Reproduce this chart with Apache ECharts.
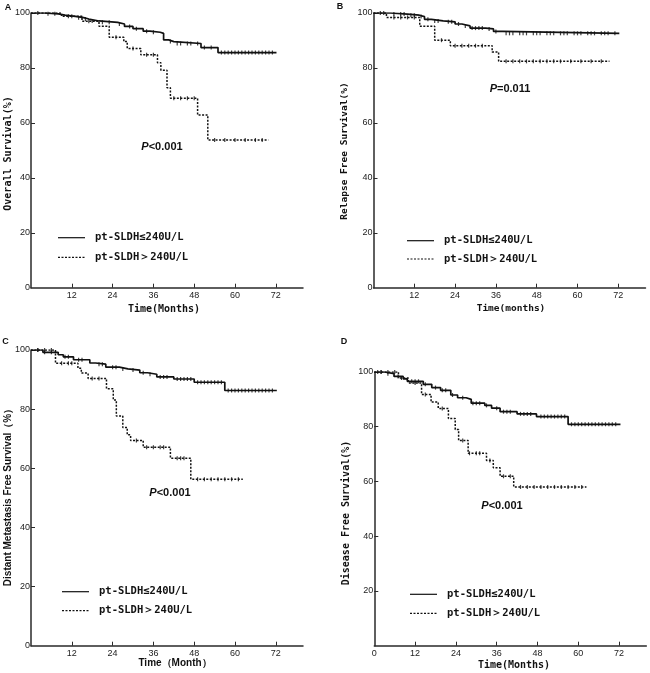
<!DOCTYPE html>
<html><head><meta charset="utf-8">
<script src="https://cdn.jsdelivr.net/npm/echarts@6/dist/echarts.min.js"></script>
<style>html,body{margin:0;padding:0;background:#fff}#c{width:650px;height:673px}</style>
</head><body><div id="c"></div>
<script>
// ---- data (months, survival %) ----
const nameLow = 'pt-SLDH≤240U/L';
const nameHigh = 'pt-SLDH＞240U/L';
const xLabelVals = [12, 24, 36, 48, 60, 72];
const xLabelValsD = [0, 12, 24, 36, 48, 60, 72];
const yLabelVals = [0, 20, 40, 60, 80, 100];
const yLabelValsD = [20, 40, 60, 80, 100];

// A: Overall Survival
const aLowT = [0, 4, 8, 10, 13, 15.5, 17, 20, 25.5, 27.5, 30, 33, 35, 38, 39, 40.5, 42, 50, 55, 72.2];
const aLowS = [100, 99.7, 99.2, 98.8, 98.3, 97.8, 97.1, 96.6, 96.0, 95.1, 94.3, 93.4, 93.0, 92.6, 90.2, 89.6, 88.9, 87.4, 85.6, 85.6];
const aHighT = [0, 9, 15, 20, 23, 27.3, 28.3, 32.3, 37.2, 38.2, 40, 41, 49, 52, 69.8];
const aHighS = [100, 98.8, 97.0, 95.2, 91.2, 89.6, 87.1, 84.8, 81.9, 79.2, 72.8, 69.0, 62.9, 53.8, 53.8];
const aLowC = [2, 5, 7, 11, 14, 16, 18, 21, 23, 26, 29, 31, 34, 36, 41, 43, 44, 46, 47, 49, 51, 53, 56, 57, 58, 59, 60, 61, 62, 63, 64, 65, 66, 67, 68, 69, 70, 71];
const aHighC = [12, 17, 25, 30, 34, 36, 42, 44, 46, 48, 54, 57, 60, 63, 66, 68];
// B: Relapse Free Survival
const bLowT = [0, 5, 10, 13.5, 15, 17, 20.5, 24, 26, 28.4, 33, 35.3, 38, 72.3];
const bLowS = [100, 99.6, 99.2, 98.7, 97.7, 97.1, 96.8, 96.0, 95.3, 94.5, 94.2, 93.3, 92.6, 92.6];
const bHighT = [0, 3.8, 13.6, 18, 22.6, 34.9, 36.8, 69.4];
const bHighS = [100, 98.4, 95.2, 90.1, 88.1, 85.8, 82.4, 82.4];
const bLowC = [2, 3, 6, 8, 9, 11, 12, 14, 16, 18, 19, 22, 23, 25, 27, 29, 30, 31, 32, 34, 36, 39, 40, 41, 43, 44, 45, 47, 48, 49, 51, 52, 53, 55, 56, 57, 59, 60, 61, 63, 64, 65, 67, 68, 69, 71];
const bHighC = [6, 8, 10, 12, 20, 24, 26, 28, 30, 32, 39, 41, 43, 45, 47, 49, 51, 53, 55, 58, 61, 64, 67];
// C: Distant Metastasis Free Survival
const cLowT = [0, 3.5, 8, 9.5, 12.5, 17.3, 19, 22, 26, 28.5, 32, 34.3, 37, 42, 48, 57, 72.3];
const cLowS = [100, 99.2, 98.4, 97.7, 96.7, 95.6, 95.2, 94.2, 93.6, 93.2, 92.3, 91.8, 90.9, 90.2, 89.1, 86.3, 86.3];
const cHighT = [0, 7.2, 13.8, 14.8, 16.8, 22.2, 24.2, 25.1, 27, 28.3, 29.3, 33, 41, 47, 62.3];
const cHighS = [100, 95.5, 93.8, 92.2, 90.4, 86.9, 83.1, 77.7, 73.8, 71.3, 69.4, 67.1, 63.4, 56.3, 56.3];
const cLowC = [2, 4, 6, 10, 11, 14, 15, 20, 21, 24, 25, 27, 30, 33, 35, 38, 39, 40, 43, 44, 45, 46, 47, 49, 50, 51, 52, 53, 54, 55, 56, 58, 59, 60, 61, 62, 63, 64, 65, 66, 67, 68, 69, 70, 71];
const cHighC = [2, 4, 6, 9, 11, 12, 18, 20, 31, 34, 36, 38, 39, 43, 44, 45, 49, 51, 53, 55, 57, 59, 61];
// D: Disease Free Survival
const dLowT = [0, 3, 5.8, 8.5, 9.7, 14.4, 16.9, 19.5, 22.5, 24.5, 27, 28.5, 32.5, 34.5, 37, 42, 47.7, 57, 72.4];
const dLowS = [100, 99.4, 98.4, 97.5, 96.6, 95.5, 94.3, 93.3, 91.6, 90.6, 90.0, 88.6, 87.8, 86.8, 85.5, 84.7, 83.7, 80.9, 80.9];
const dHighT = [0, 7.1, 10, 13.9, 16.7, 18.8, 21.8, 23.8, 24.8, 27.6, 33, 35, 37, 41, 62.4];
const dHighS = [100, 97.8, 96.0, 91.8, 89.0, 86.7, 83.0, 79.0, 75.0, 70.3, 67.7, 65.0, 61.9, 58.0, 58.0];
const dLowC = [1, 2, 4, 7, 11, 12, 13, 15, 18, 20, 21, 23, 26, 29, 30, 31, 33, 36, 38, 39, 40, 43, 44, 45, 46, 49, 50, 51, 52, 53, 54, 55, 56, 58, 59, 60, 61, 62, 63, 64, 65, 66, 67, 68, 69, 70, 71];
const dHighC = [2, 4, 6, 8, 12, 15, 20, 26, 28, 30, 31, 34, 38, 40, 43, 45, 47, 49, 51, 53, 55, 57, 59, 61];

// ---- helpers ----
const zip = (t, s) => t.map((v, i) => [v, s[i]]);
// survival value of a KM step curve at time t (for censor marks)
const at = (T, S, t) => { let v = S[0]; for (let i = 0; i < T.length; i++) { if (T[i] <= t) v = S[i]; } return v; };
const cens = (T, S, C) => C.map(t => [t, at(T, S, t)]);

const mono = '"DejaVu Sans Mono", monospace';
const sans = '"Liberation Sans", Arial, sans-serif';
const narrow = '"Liberation Sans Narrow", "Liberation Sans", Arial, sans-serif';
const AX = '#2a2a2a';
const INK = '#111';

const panels = [
  {grid: {left: 31, top: 13, width: 272, height: 274.7},
   low: [aLowT, aLowS, aLowC], high: [aHighT, aHighS, aHighC], xl: xLabelVals, yl: yLabelVals,
   lg: {x: 58, y1: 237.7, y2: 257.3}},
  {grid: {left: 373.5, top: 13, width: 272, height: 274.7},
   low: [bLowT, bLowS, bLowC], high: [bHighT, bHighS, bHighC], xl: xLabelVals, yl: yLabelVals,
   lg: {x: 407, y1: 240.7, y2: 259}},
  {grid: {left: 31, top: 350, width: 272, height: 295.7},
   low: [cLowT, cLowS, cLowC], high: [cHighT, cHighS, cHighC], xl: xLabelVals, yl: yLabelVals,
   lg: {x: 62, y1: 591.7, y2: 610.7}},
  {grid: {left: 374.3, top: 372, width: 272, height: 273.7},
   low: [dLowT, dLowS, dLowC], high: [dHighT, dHighS, dHighC], xl: xLabelValsD, yl: yLabelValsD,
   lg: {x: 410, y1: 594.3, y2: 613.3}}
];

const lowStyle = {color: INK, width: 1.7};
const highStyle = {color: INK, width: 1.5, type: [2, 1.5]};
const grid = [], xAxis = [], yAxis = [], series = [], graphic = [];
panels.forEach((p, i) => {
  grid.push(p.grid);
  xAxis.push({type: 'value', gridIndex: i, min: 0, max: 80,
    axisLine: {show: true, onZero: false, lineStyle: {color: AX, width: 1.5}},
    axisTick: {show: true, inside: true, length: 4, customValues: xLabelVals, lineStyle: {color: AX}},
    axisLabel: {customValues: p.xl, fontSize: 9, fontFamily: narrow, color: '#222', margin: 3},
    splitLine: {show: false}});
  yAxis.push({type: 'value', gridIndex: i, min: 0, max: 100,
    axisLine: {show: true, onZero: false, lineStyle: {color: AX, width: 1.5}},
    axisTick: {show: true, inside: true, length: 4, customValues: [20, 40, 60, 80, 100], lineStyle: {color: AX}},
    axisLabel: {customValues: p.yl, fontSize: 9, fontFamily: narrow, color: '#222', margin: 1},
    splitLine: {show: false}});
  series.push({type: 'line', name: nameLow, xAxisIndex: i, yAxisIndex: i, step: 'end', symbol: 'none',
    data: zip(p.low[0], p.low[1]), lineStyle: lowStyle, itemStyle: {color: INK}, animation: false});
  series.push({type: 'line', name: nameHigh, xAxisIndex: i, yAxisIndex: i, step: 'end', symbol: 'none',
    data: zip(p.high[0], p.high[1]), lineStyle: highStyle, itemStyle: {color: INK}, animation: false});
  series.push({type: 'scatter', name: nameLow + ' censored', xAxisIndex: i, yAxisIndex: i, symbol: 'rect', symbolSize: [1.2, 4],
    data: cens(p.low[0], p.low[1], p.low[2]), itemStyle: {color: INK}, silent: true, animation: false});
  series.push({type: 'scatter', name: nameHigh + ' censored', xAxisIndex: i, yAxisIndex: i, symbol: 'rect', symbolSize: [1.2, 4],
    data: cens(p.high[0], p.high[1], p.high[2]), itemStyle: {color: INK}, silent: true, animation: false});
  // legend samples
  const L = p.lg;
  graphic.push({type: 'line', shape: {x1: L.x, y1: L.y1, x2: L.x + 27, y2: L.y1}, style: {stroke: INK, lineWidth: 1.2}});
  graphic.push({type: 'line', shape: {x1: L.x, y1: L.y2, x2: L.x + 27, y2: L.y2}, style: {stroke: INK, lineWidth: 1.2, lineDash: [2, 1.5]}});
  graphic.push({type: 'text', x: L.x + 37, y: L.y1, style: {text: nameLow, font: 'bold 10.5px ' + mono, fill: INK, align: 'left', verticalAlign: 'middle'}});
  graphic.push({type: 'text', x: L.x + 37, y: L.y2, style: {text: nameHigh, font: 'bold 10.5px ' + mono, fill: INK, align: 'left', verticalAlign: 'middle'}});
});

function txt(x, y, text, font, opts) {
  return Object.assign({type: 'text', x: x, y: y, style: {text: text, font: font, fill: INK, align: 'center', verticalAlign: 'middle'}}, opts || {});
}
const ROT = Math.PI / 2;
graphic.push(
  txt(8, 7.5, 'A', 'bold 9px ' + sans), txt(340, 6.5, 'B', 'bold 9px ' + sans),
  txt(5.5, 342, 'C', 'bold 9px ' + sans), txt(344, 342, 'D', 'bold 9px ' + sans),
  txt(8.5, 153.5, 'Overall Survival(%)', 'bold 10px ' + mono, {rotation: ROT}),
  txt(164, 309, 'Time(Months)', 'bold 10px ' + mono),
  txt(344.5, 151, 'Relapse Free Survival(%)', 'bold 9.5px ' + mono, {rotation: ROT}),
  txt(511, 309, 'Time(months)', 'bold 9.5px ' + mono),
  txt(8.5, 495, 'Distant Metastasis Free Survival（%）', 'bold 10px ' + sans, {rotation: ROT}),
  txt(175, 663, 'Time（Month）', 'bold 10px ' + sans),
  txt(346, 513, 'Disease Free Survival(%)', 'bold 10px ' + mono, {rotation: ROT}),
  txt(514, 665.7, 'Time(Months)', 'bold 10px ' + mono)
);
[[162, 147, '<0.001'], [510, 89, '=0.011'], [170, 493, '<0.001'], [502, 506, '<0.001']].forEach(a => {
  graphic.push({type: 'text', x: a[0], y: a[1], style: {
    text: '{i|P}' + a[2], font: 'bold 11px ' + sans, fill: INK, align: 'center', verticalAlign: 'middle',
    rich: {i: {fontStyle: 'italic', fontWeight: 'bold', fontSize: 11, fontFamily: sans}}}});
});

const chart = echarts.init(document.getElementById('c'), null, {renderer: 'canvas'});
chart.setOption({animation: false, backgroundColor: '#fff', grid, xAxis, yAxis, series, graphic});
</script>
</body></html>
